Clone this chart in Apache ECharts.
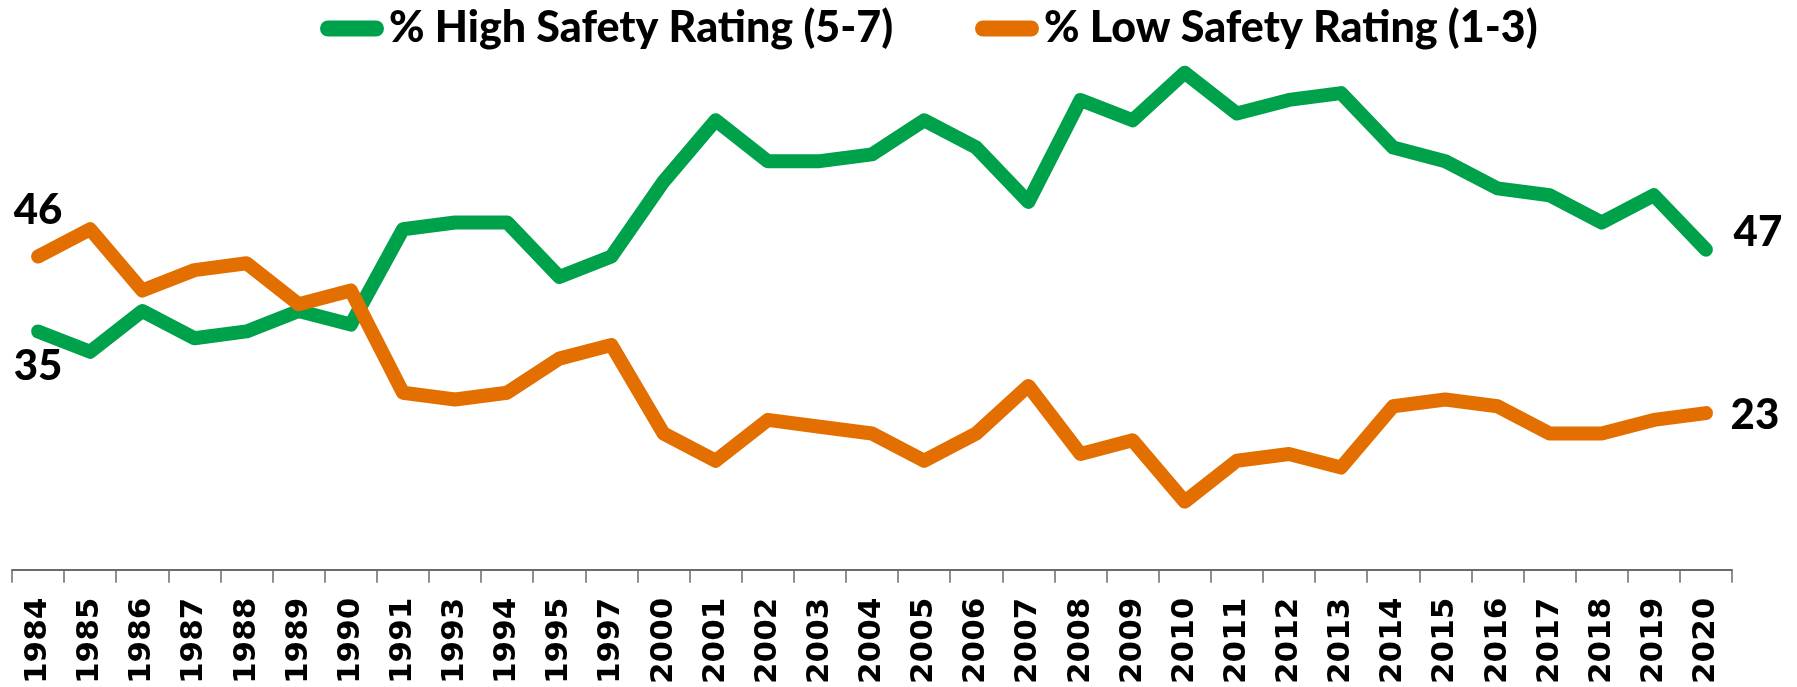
<!DOCTYPE html>
<html>
<head>
<meta charset="utf-8">
<title>Safety Rating</title>
<script src="https://cdn.jsdelivr.net/npm/echarts@6/dist/echarts.min.js"></script>
<style>
  html, body { margin: 0; padding: 0; background: #fff; }
  #chart { width: 1797px; height: 687px; }
</style>
</head>
<body>
<div id="chart"></div>
<script>
const years = ['1984', '1985', '1986', '1987', '1988', '1989', '1990', '1991', '1993', '1994', '1995', '1997',
  '2000', '2001', '2002', '2003', '2004', '2005', '2006', '2007', '2008', '2009', '2010', '2011', '2012',
  '2013', '2014', '2015', '2016', '2017', '2018', '2019', '2020'];

const highName = '% High Safety Rating (5-7)';
const lowName = '% Low Safety Rating (1-3)';

const highRating = [35, 32, 38, 34, 35, 38, 36, 50, 51, 51, 43, 46,
  57, 66, 60, 60, 61, 66, 62, 54, 69, 66, 73, 67, 69,
  70, 62, 60, 56, 55, 51, 55, 47];

const lowRating = [46, 50, 41, 44, 45, 39, 41, 26, 25, 26, 31, 33,
  20, 16, 22, 21, 20, 16, 20, 27, 17, 19, 10, 16, 17,
  15, 24, 25, 24, 20, 20, 22, 23];

const GREEN = '#00A14B';
const ORANGE = '#E36F00';

const labelFont = { fontFamily: 'Lato', fontWeight: 900, fontSize: 42, color: '#000' };

// only first and last points carry a value label
function withEndLabels(values, firstOffset, lastOffset) {
  const last = values.length - 1;
  return values.map((v, i) => {
    if (i !== 0 && i !== last) return v;
    return {
      value: v,
      label: {
        show: true,
        position: 'inside',
        align: 'center',
        verticalAlign: 'middle',
        offset: i === 0 ? firstOffset : lastOffset,
        ...labelFont
      }
    };
  });
}

function lineSeries(name, color, data) {
  return {
    name,
    type: 'line',
    data,
    symbol: 'circle',
    symbolSize: 0,
    showSymbol: true,
    label: { show: false },
    lineStyle: { color, width: 14, cap: 'round', join: 'round' },
    itemStyle: { color },
    emphasis: { disabled: true },
    z: name === lowName ? 3 : 2
  };
}

const pill = 'path://M8 0H56A8 8 0 0 1 56 16H8A8 8 0 0 1 8 0Z';

function legendAt(left, name) {
  return {
    data: [name],
    left,
    top: 2,
    icon: pill,
    itemWidth: 64,
    itemHeight: 16,
    selectedMode: false,
    textStyle: { fontFamily: 'Lato', fontWeight: 900, fontSize: 43, color: '#000' }
  };
}

const chart = echarts.init(document.getElementById('chart'));

chart.setOption({
  animation: false,
  legend: [legendAt(315, highName), legendAt(970, lowName)],
  grid: { left: 12, right: 65, top: 25, bottom: 114, containLabel: false },
  xAxis: {
    type: 'category',
    data: years,
    boundaryGap: true,
    axisLine: { lineStyle: { color: '#6b6b6b', width: 2 } },
    axisTick: { show: true, interval: 0, length: 13, lineStyle: { color: '#6b6b6b', width: 1.5 } },
    axisLabel: {
      interval: 0,
      rotate: 90,
      margin: 28,
      fontFamily: 'DejaVu Sans',
      fontWeight: 'bold',
      fontSize: 31,
      color: '#000'
    }
  },
  yAxis: {
    type: 'value',
    min: 0,
    max: 80,
    show: false,
    splitLine: { show: false }
  },
  series: [
    lineSeries(highName, GREEN, withEndLabels(highRating, [0, 35], [52, -17])),
    lineSeries(lowName, ORANGE, withEndLabels(lowRating, [0, -46], [49, 2]))
  ]
});
</script>
</body>
</html>
